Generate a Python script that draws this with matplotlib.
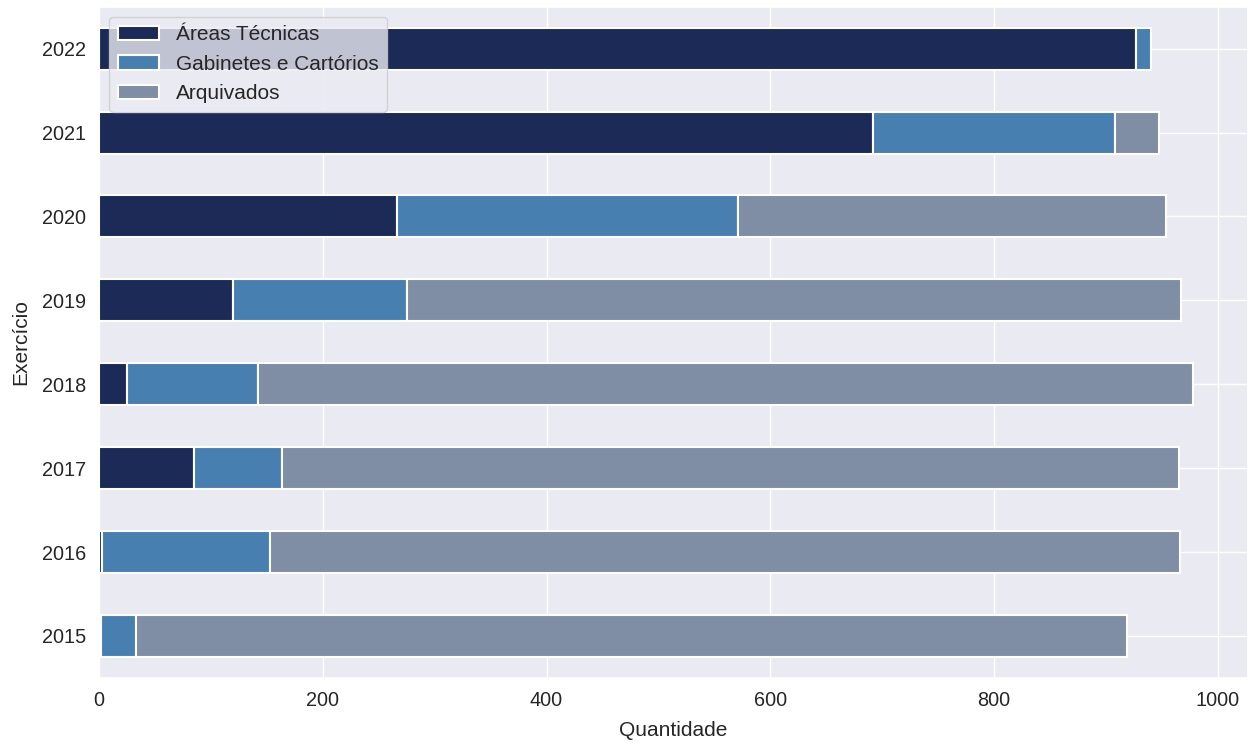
import matplotlib
matplotlib.use("Agg")

import matplotlib.pyplot as plt
import pandas as pd
import seaborn as sns


anos = [2015, 2016, 2017, 2018, 2019, 2020, 2021, 2022]

areas_tecnicas = [2, 3, 85, 25, 120, 266, 692, 927]
gabinetes_cartorios = [31, 150, 79, 117, 155, 305, 216, 13]
arquivados = [886, 813, 801, 836, 692, 383, 39, 0]

cores = ["#1b2a56", "#487fb1", "#7f8ea5"]


sns.set_theme(style="darkgrid", font_scale=1.25)
plt.rcParams["font.family"] = ["Liberation Sans", "DejaVu Sans"]
plt.rcParams["xtick.labelsize"] = 14.3
plt.rcParams["ytick.labelsize"] = 14.3

df = pd.DataFrame(
    {
        "Áreas Técnicas": areas_tecnicas,
        "Gabinetes e Cartórios": gabinetes_cartorios,
        "Arquivados": arquivados,
    },
    index=anos
)

fig, ax = plt.subplots(figsize=(12.53, 7.45), dpi=100)

df.plot(
    kind="barh",
    stacked=True,
    color=cores,
    edgecolor="white",
    linewidth=1.5,
    ax=ax
)

ax.set_xlabel("Quantidade", labelpad=8)
ax.set_ylabel("Exercício", labelpad=8)

ax.legend(loc="upper left", fontsize=15)

fig.subplots_adjust(left=0.079, right=0.996, top=0.991, bottom=0.09)

plt.savefig("out.png")
